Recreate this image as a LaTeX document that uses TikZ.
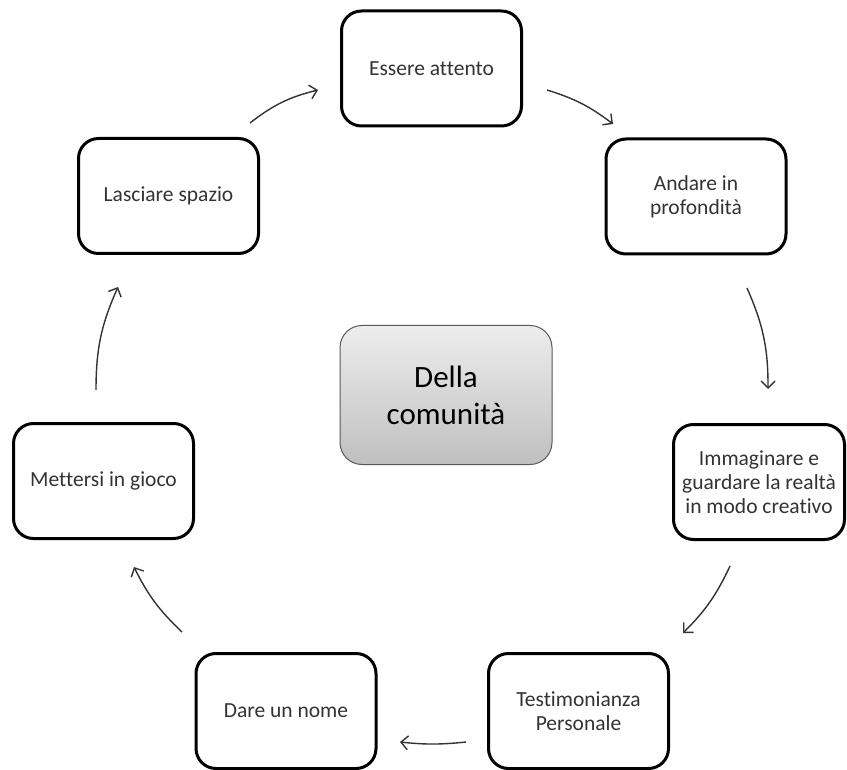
\documentclass[tikz,border=0pt]{standalone}
\usepackage{fontspec}
\setmainfont[Ligatures=NoCommon]{Carlito}
\usetikzlibrary{arrows.meta}
\begin{document}
\begin{tikzpicture}[x=1pt,y=-1pt,
  stepbox/.style={draw=black,line width=3pt,rounded corners=20pt,fill=white,
    minimum width=180pt,minimum height=115pt,align=center,text=black!80,
    font=\fontsize{21.5}{24}\selectfont,inner sep=2pt},
  centerbox/.style={draw=black!65,line width=1pt,rounded corners=22pt,
    top color=black!7,bottom color=black!25,
    minimum width=212pt,minimum height=139pt,align=center,text=black,
    font=\fontsize{31}{37}\selectfont},
  cyc/.style={draw=black!80,line width=1.4pt,
    -{Straight Barb[length=7pt,width=14pt,line width=1.4pt]}}]
\useasboundingbox (0,0) rectangle (847,770);
\fill[white] (0,0) rectangle (847,770);

\node[stepbox] (ess) at (431.5,68.5) {Essere attento};
\node[stepbox] (and) at (696,196.5) {Andare in\\profondità};
\node[stepbox,minimum width=171pt] (imm) at (759,482) {Immaginare e\\guardare la realtà\\in modo creativo};
\node[stepbox] (tes) at (578.5,711) {Testimonianza\\Personale};
\node[stepbox] (dar) at (286,711) {Dare un nome};
\node[stepbox] (met) at (103.5,481) {Mettersi in gioco};
\node[stepbox] (las) at (168.5,196) {Lasciare spazio};
\node[centerbox] (cen) at (446,395) {Della\\comunità};

\coordinate (a1s) at (250,123); \coordinate (a1e) at (318,90);
\coordinate (a2s) at (547,90);  \coordinate (a2e) at (613,124);
\coordinate (a3s) at (747,288); \coordinate (a3e) at (768,389);
\coordinate (a4s) at (730,566); \coordinate (a4e) at (683,633);
\coordinate (a5s) at (466,742); \coordinate (a5e) at (400,742);
\coordinate (a6s) at (182,632); \coordinate (a6e) at (134,567);
\coordinate (a7s) at (96,390);  \coordinate (a7e) at (118,287);

\draw[cyc] (a1s) to[bend left=12] (a1e);
\draw[cyc] (a2s) to[bend left=10] (a2e);
\draw[cyc] (a3s) to[bend left=12] (a3e);
\draw[cyc] (a4s) to[bend left=10] (a4e);
\draw[cyc] (a5s) to[bend left=6] (a5e);
\draw[cyc] (a6s) to[bend left=10] (a6e);
\draw[cyc] (a7s) to[bend left=12] (a7e);
\end{tikzpicture}
\end{document}
